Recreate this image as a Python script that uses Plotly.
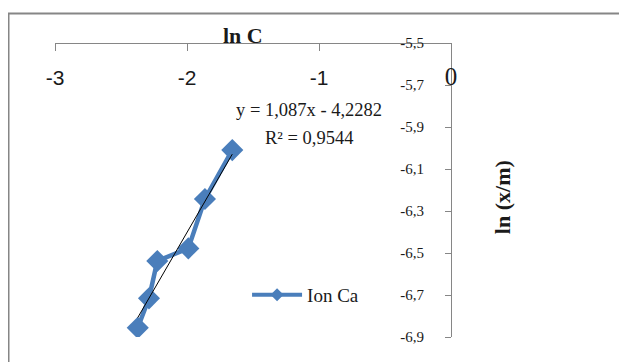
import plotly.graph_objects as go

# Data
ln_c = [-1.657, -1.864, -1.990, -2.225, -2.288, -2.373]
ln_xm = [-6.010, -6.243, -6.478, -6.538, -6.716, -6.856]
series_name = "Ion Ca"

# Trendline (from the displayed equation)
slope = 1.087
intercept = -4.2282
r2_text = "0,9544"

x_ticks = [-3, -2, -1, 0]
x_ticktext = ["-3", "-2", "-1",
              "<span style='font-family:Liberation Serif;font-size:25px'>0</span>"]
y_ticks = [-5.5, -5.7, -5.9, -6.1, -6.3, -6.5, -6.7, -6.9]
y_ticktext = ["-5,5", "-5,7", "-5,9", "-6,1", "-6,3", "-6,5", "-6,7", "-6,9"]

BLUE = "#4A7EBB"
GRAY = "#868686"
SERIF = "Liberation Serif"
TXT = "#1a1a1a"

tx = [min(ln_c), max(ln_c)]
ty = [slope * v + intercept for v in tx]

fig = go.Figure()
fig.add_trace(go.Scatter(
    x=ln_c, y=ln_xm, mode="lines+markers", name=series_name, showlegend=False,
    line=dict(color=BLUE, width=4.5),
    marker=dict(symbol="diamond", size=17, color=BLUE),
))
fig.add_trace(go.Scatter(
    x=tx, y=ty, mode="lines", showlegend=False,
    line=dict(color="black", width=1), hoverinfo="skip",
))
# legend entry (same series, smaller legend symbol)
fig.add_trace(go.Scatter(
    x=[None], y=[None], mode="lines+markers", name=series_name,
    line=dict(color=BLUE, width=4),
    marker=dict(symbol="diamond", size=10, color=BLUE),
))

fig.update_layout(
    width=619, height=354,
    margin=dict(l=47, r=176, t=35, b=25),
    paper_bgcolor="white", plot_bgcolor="white",
    xaxis=dict(
        range=[-3, 0], tickvals=x_ticks, ticktext=x_ticktext,
        anchor="free", position=1, side="bottom",
        showline=True, linecolor=GRAY, linewidth=1,
        ticks="outside", ticklen=7, tickcolor=GRAY,
        showgrid=False, zeroline=False,
        tickfont=dict(family="Liberation Sans", size=21, color=TXT),
        ticklabelstandoff=9,
    ),
    yaxis=dict(
        range=[-6.9, -5.5], tickvals=y_ticks, ticktext=y_ticktext,
        anchor="free", position=1, side="left",
        showline=True, linecolor=GRAY, linewidth=1,
        ticks="outside", ticklen=6, tickcolor=GRAY,
        showgrid=False, zeroline=False,
        tickfont=dict(family=SERIF, size=15, color=TXT),
        ticklabelstandoff=18,
    ),
    legend=dict(
        x=0.485, y=0.143, xanchor="left", yanchor="middle",
        font=dict(family=SERIF, size=19, color=TXT),
        bgcolor="rgba(0,0,0,0)", itemwidth=50,
    ),
    shapes=[dict(
        type="rect", xref="paper", yref="paper",
        x0=-0.1174, x1=3, y0=-1, y1=1.10,
        line=dict(color=GRAY, width=2), layer="below",
    )],
    annotations=[
        dict(text="<b>ln C</b>", xref="paper", yref="paper", x=0.475, y=1.027,
             xanchor="center", yanchor="middle",
             showarrow=False, font=dict(family=SERIF, size=22, color=TXT)),
        dict(text="<b>ln (x/m)</b>", xref="paper", yref="paper", x=1.129, y=0.476,
             xanchor="center", yanchor="middle",
             textangle=-90, showarrow=False,
             font=dict(family=SERIF, size=22, color=TXT)),
        dict(text="y = 1,087x - 4,2282", xref="paper", yref="paper", x=0.641, y=0.772,
             xanchor="center", yanchor="middle",
             showarrow=False, font=dict(family=SERIF, size=18.5, color=TXT)),
        dict(text="R² = " + r2_text, xref="paper", yref="paper", x=0.641, y=0.677,
             xanchor="center", yanchor="middle",
             showarrow=False, font=dict(family=SERIF, size=18.5, color=TXT)),
    ],
)

fig.write_html("out.html")
